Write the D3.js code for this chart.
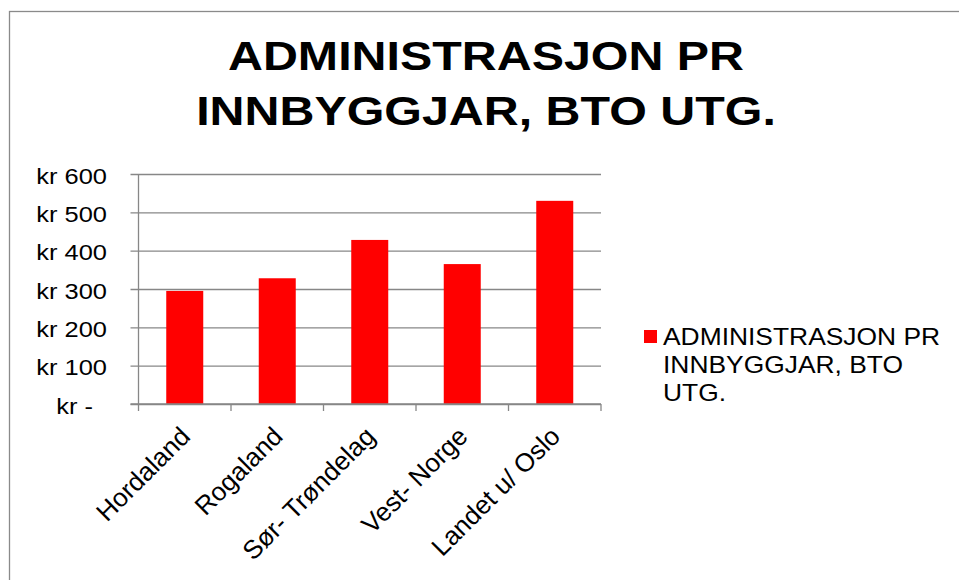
<!DOCTYPE html>
<html>
<head>
<meta charset="utf-8">
<script src="https://cdn.jsdelivr.net/npm/d3@7"></script>
<style>
  body { margin: 0; background: #fff; }
  svg { display: block; font-family: "Liberation Sans", Arial, sans-serif; }
</style>
</head>
<body>
<svg id="chart"></svg>
<script>
/* data */
const categories = ['Hordaland', 'Rogaland', 'Sør- Trøndelag', 'Vest- Norge', 'Landet u/ Oslo']
const values = [295, 328, 428, 365, 530]
const yTicks = [0, 100, 200, 300, 400, 500, 600]
const titleLines = ['ADMINISTRASJON PR', 'INNBYGGJAR, BTO UTG.']
const legendLines = ['ADMINISTRASJON PR', 'INNBYGGJAR, BTO', 'UTG.']

const width = 959, height = 580
const plot = {left: 138.5, right: 601, top: 174, bottom: 404}
const gridColor = '#878787'
const barColor = '#ff0000'

let svg = d3.select('#chart')
            .attr('width', width)
            .attr('height', height)

/* chart frame */
svg.append('rect')
   .attr('x', 9.5)
   .attr('y', 11.5)
   .attr('width', width)
   .attr('height', height)
   .attr('fill', '#fff')
   .attr('stroke', '#8a8a8a')
   .attr('stroke-width', 1.3)

/* scales */
const xScale = d3.scaleBand()
                 .domain(categories)
                 .range([plot.left, plot.right])
                 .paddingInner(0.6)
                 .paddingOuter(0.3)

const yScale = d3.scaleLinear()
                 .domain([0, 600])
                 .range([plot.bottom, plot.top])

/* title */
const titleSx = 1.21
svg.append('g')
   .attr('transform', 'translate(486,0) scale(' + titleSx + ',1)')
   .selectAll('text')
   .data(titleLines)
   .enter()
   .append('text')
   .attr('x', 0)
   .attr('y', (d, i) => 70 + i * 55)
   .attr('text-anchor', 'middle')
   .style('font-size', '40px')
   .style('font-weight', 'bold')
   .text(d => d)

/* y axis with gridlines */
const labelSx = 1.13
const yAxis = d3.axisLeft(yScale)
                .tickValues(yTicks)
                .tickSize(-(plot.right - plot.left))
                .tickPadding(0)
                .tickFormat(d => d === 0 ? 'kr -\u00a0\u00a0' : 'kr ' + d)

let yG = svg.append('g')
            .attr('transform', 'translate(' + plot.left + ',0)')
            .call(yAxis)

yG.select('.domain').remove()
yG.selectAll('.tick line')
  .attr('x1', -8)
  .attr('stroke', gridColor)
  .attr('stroke-width', 1.3)
yG.selectAll('.tick text')
  .attr('x', -31.5 / labelSx)
  .attr('dy', '0.41em')
  .attr('transform', 'scale(' + labelSx + ',1)')
  .attr('fill', '#000')
  .style('font-size', '22.5px')
  .style('font-family', '"Liberation Sans", Arial, sans-serif')

svg.append('line')
   .attr('x1', plot.left)
   .attr('x2', plot.left)
   .attr('y1', plot.top)
   .attr('y2', plot.bottom)
   .attr('stroke', gridColor)
   .attr('stroke-width', 1.3)

/* bars */
svg.selectAll('rect.bar')
   .data(values)
   .enter()
   .append('rect')
   .attr('class', 'bar')
   .attr('x', (d, i) => xScale(categories[i]))
   .attr('width', xScale.bandwidth())
   .attr('y', d => yScale(d))
   .attr('height', d => plot.bottom - yScale(d))
   .attr('fill', barColor)

/* x axis: line, ticks between categories, rotated labels */
const step = xScale.step()
const edges = d3.range(categories.length + 1).map(i => plot.left + i * step)

svg.append('line')
   .attr('x1', plot.left - 8)
   .attr('x2', plot.right)
   .attr('y1', plot.bottom)
   .attr('y2', plot.bottom)
   .attr('stroke', gridColor)
   .attr('stroke-width', 1.3)

svg.selectAll('line.xtick')
   .data(edges)
   .enter()
   .append('line')
   .attr('class', 'xtick')
   .attr('x1', d => d)
   .attr('x2', d => d)
   .attr('y1', plot.bottom)
   .attr('y2', plot.bottom + 7)
   .attr('stroke', gridColor)
   .attr('stroke-width', 1.3)

svg.selectAll('text.xlabel')
   .data(categories)
   .enter()
   .append('text')
   .attr('class', 'xlabel')
   .attr('transform', d => 'translate(' + (xScale(d) + xScale.bandwidth() / 2 + 7) + ',438) rotate(-45)')
   .attr('text-anchor', 'end')
   .style('font-size', '26px')
   .text(d => d)

/* legend */
let legend = svg.append('g')

legend.append('rect')
      .attr('x', 644)
      .attr('y', 330)
      .attr('width', 13)
      .attr('height', 13)
      .attr('fill', barColor)

legend.append('g')
      .attr('transform', 'translate(663,0) scale(1.1,1)')
      .selectAll('text')
      .data(legendLines)
      .enter()
      .append('text')
      .attr('x', 0)
      .attr('y', (d, i) => 345 + i * 28)
      .style('font-size', '24px')
      .text(d => d)
</script>
</body>
</html>
